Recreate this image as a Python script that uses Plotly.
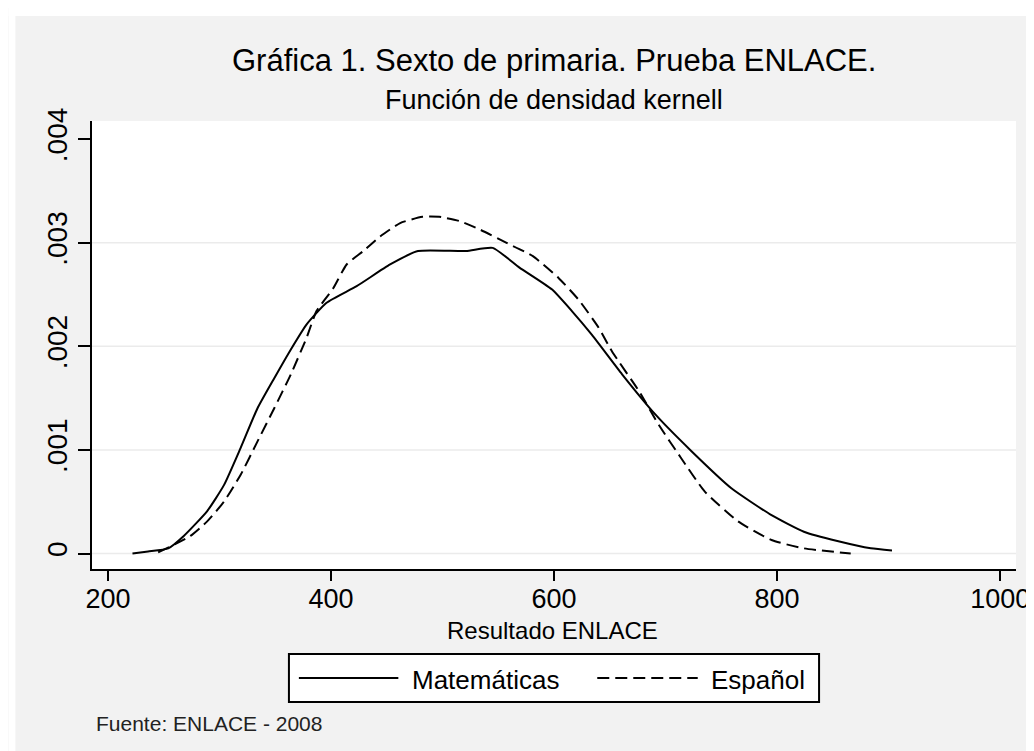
import plotly.graph_objects as go

# ---------------- data ----------------
series_names = ["Matemáticas", "Español"]

mat_x = [222, 236, 254, 268, 289, 304, 319, 334, 349, 364, 378, 396, 423, 453, 478,
         521, 545, 569, 598, 616, 634, 661, 691, 723, 759, 795, 824, 854, 884, 903]
mat_y = [0.0, 0.00002, 0.00005, 0.00017, 0.00041, 0.00066, 0.00102, 0.00140, 0.00169,
         0.00197, 0.00221, 0.00242, 0.00258, 0.00279, 0.00292, 0.00292, 0.00295, 0.00276,
         0.00255, 0.00234, 0.00211, 0.00173, 0.00134, 0.00099, 0.00063, 0.00037, 0.00021,
         0.00012, 0.00005, 0.00003]

esp_x = [245, 274, 289, 304, 319, 334, 349, 364, 378, 387, 402, 414, 429, 444, 462, 482,
         497, 515, 533, 557, 581, 604, 622, 640, 652, 676, 694, 714, 735, 765, 795, 824, 866]
esp_y = [0.00001, 0.00017, 0.00031, 0.00050, 0.00076, 0.00108, 0.00140, 0.00173, 0.00208,
         0.00234, 0.00256, 0.00279, 0.00292, 0.00306, 0.00319, 0.00325, 0.00325, 0.00321,
         0.00313, 0.00300, 0.00287, 0.00266, 0.00245, 0.00218, 0.00195, 0.00157, 0.00124,
         0.00092, 0.00060, 0.00031, 0.00013, 0.00005, 0.0]

x_ticks = [200, 400, 600, 800, 1000]
y_ticks = [0, 0.001, 0.002, 0.003, 0.004]
y_tick_labels = ["0", ".001", ".002", ".003", ".004"]
grid_values = [0, 0.001, 0.002, 0.003]

title_text = "Gráfica 1. Sexto de primaria. Prueba ENLACE."
subtitle_text = "Función de densidad kernell"
x_title = "Resultado ENLACE"
source_text = "Fuente: ENLACE - 2008"

# ---------------- layout geometry ----------------
W, H = 1034, 751
L, R, T, B = 84, 1013, 113, 561
PW, PH = R - L, B - T
FONT = "Liberation Sans, Arial, Helvetica, sans-serif"
DASH = "12px,6px"


def px(xp):
    return (xp - L) / PW


def py(yp):
    return (B - yp) / PH


fig = go.Figure()
fig.add_trace(go.Scatter(x=mat_x, y=mat_y, mode="lines", name=series_names[0],
                         line=dict(color="black", width=2, shape="spline", smoothing=0.5),
                         showlegend=False))
fig.add_trace(go.Scatter(x=esp_x, y=esp_y, mode="lines", name=series_names[1],
                         line=dict(color="black", width=2, dash=DASH, shape="spline", smoothing=0.5),
                         showlegend=False))

shapes = []
# white outer strips (top and left) around the grey panel
shapes.append(dict(type="rect", xref="paper", yref="paper", x0=px(0), x1=px(W), y0=py(0), y1=py(8),
                   fillcolor="white", line=dict(width=0), layer="below"))
shapes.append(dict(type="rect", xref="paper", yref="paper", x0=px(0), x1=px(7), y0=py(0), y1=py(H),
                   fillcolor="white", line=dict(width=0), layer="below"))
# horizontal grid lines
for g in grid_values:
    shapes.append(dict(type="line", xref="paper", yref="y", x0=0, x1=1, y0=g, y1=g,
                       line=dict(color="#ebebeb", width=1.5), layer="below"))
# legend box and samples
shapes.append(dict(type="rect", xref="paper", yref="paper", x0=px(282), x1=px(815),
                   y0=py(694), y1=py(646), fillcolor="white", line=dict(color="black", width=2)))
shapes.append(dict(type="line", xref="paper", yref="paper", x0=px(292), x1=px(392),
                   y0=py(670), y1=py(670), line=dict(color="black", width=2)))
shapes.append(dict(type="line", xref="paper", yref="paper", x0=px(592), x1=px(693),
                   y0=py(670), y1=py(670), line=dict(color="black", width=2, dash=DASH)))

annotations = [
    dict(text=title_text, xref="paper", yref="paper", x=0.5, y=py(52), xanchor="center",
         yanchor="middle", showarrow=False, font=dict(family=FONT, size=31, color="black")),
    dict(text=subtitle_text, xref="paper", yref="paper", x=0.5, y=py(92), xanchor="center",
         yanchor="middle", showarrow=False, font=dict(family=FONT, size=27, color="black")),
    dict(text=x_title, xref="paper", yref="paper", x=px(547), y=py(622), xanchor="center",
         yanchor="middle", showarrow=False, font=dict(family=FONT, size=24, color="black")),
    dict(text=series_names[0], xref="paper", yref="paper", x=px(404), y=py(672), xanchor="left",
         yanchor="middle", showarrow=False, font=dict(family=FONT, size=26, color="black")),
    dict(text=series_names[1], xref="paper", yref="paper", x=px(704), y=py(672), xanchor="left",
         yanchor="middle", showarrow=False, font=dict(family=FONT, size=26, color="black")),
    dict(text=source_text, xref="paper", yref="paper", x=px(86), y=py(715), xanchor="left",
         yanchor="middle", showarrow=False, font=dict(family=FONT, size=21, color="#222222")),
]

fig.update_layout(
    width=W, height=H,
    margin=dict(l=L, r=W - R, t=T, b=H - B, pad=0),
    paper_bgcolor="#f2f2f2",
    plot_bgcolor="white",
    showlegend=False,
    shapes=shapes,
    annotations=annotations,
    font=dict(family=FONT, color="black"),
)

fig.update_xaxes(
    range=[185.7, 1014.2], tickmode="array", tickvals=x_ticks,
    ticks="outside", ticklen=10, tickwidth=2, tickcolor="black",
    showline=True, linecolor="black", linewidth=2, mirror=False,
    showgrid=False, zeroline=False, tickfont=dict(family=FONT, size=27, color="black"),
    ticklabelstandoff=-5,
)
fig.update_yaxes(
    range=[-0.0001496, 0.004175], tickmode="array", tickvals=y_ticks, ticktext=y_tick_labels,
    tickangle=-90, ticks="outside", ticklen=12, tickwidth=2, tickcolor="black",
    showline=True, linecolor="black", linewidth=2, mirror=False,
    showgrid=False, zeroline=False, tickfont=dict(family=FONT, size=28, color="black"),
)

fig.write_html("out.html")
